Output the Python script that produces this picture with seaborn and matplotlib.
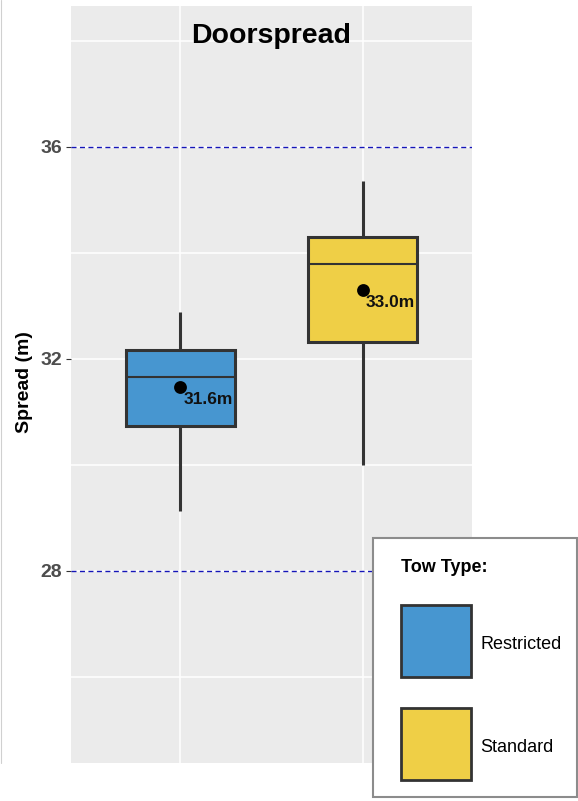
import numpy as np
import pandas as pd
import seaborn as sns
import matplotlib.pyplot as plt
from matplotlib.patches import Rectangle
from matplotlib.lines import Line2D


# ==========================================
# 1. DATA
# ==========================================

tow_types = ["Restricted", "Standard"]
box_colors = ["#4796D0", "#EFCF46"]

# five-number summaries per tow type (m)
whisker_low = [29.13, 29.99]
q1_values = [30.74, 32.32]
median_values = [31.65, 33.79]
q3_values = [32.16, 34.29]
whisker_high = [32.89, 35.36]

# mean markers and their labels
mean_values = [31.46, 33.29]
mean_labels = ["31.6m", "33.0m"]

# reference lines and axis ticks
ref_lines = [28, 36]
y_ticks = [28, 32, 36]
y_minor = [26, 30, 34, 38]

# Five points per group reproduce the summary exactly with whis=(0, 100)
rows = []
for i, t in enumerate(tow_types):
    for v in (whisker_low[i], q1_values[i], median_values[i], q3_values[i], whisker_high[i]):
        rows.append({"tow_type": t, "spread": v})
df = pd.DataFrame(rows)
means_df = pd.DataFrame({"tow_type": tow_types, "mean": mean_values})


# ==========================================
# 2. STYLE
# ==========================================

sns.set_theme(style="darkgrid", rc={
    "axes.facecolor": "#EBEBEB",
    "grid.color": "white",
    "grid.linewidth": 1.1,
    "axes.edgecolor": "#EBEBEB",
})
plt.rcParams["font.family"] = ["Liberation Sans", "DejaVu Sans"]

W, H = 578, 801
fig = plt.figure(figsize=(W / 100, H / 100), dpi=100)


def fx(px):
    return px / W


def fy(px):
    return 1 - px / H


ax = fig.add_axes([fx(71), fy(763), fx(472) - fx(71), fy(6) - fy(763)])


# ==========================================
# 3. BOXES, MEANS, LABELS
# ==========================================

sns.boxplot(
    data=df, x="tow_type", y="spread", hue="tow_type",
    order=tow_types, hue_order=tow_types, palette=box_colors,
    whis=(0, 100), width=0.6, saturation=1, linewidth=2.2,
    linecolor="#333333", showcaps=False, legend=False,
    medianprops=dict(linewidth=1.5, color="#333333"),
    ax=ax,
)

sns.pointplot(
    data=means_df, x="tow_type", y="mean", order=tow_types,
    color="black", linestyle="none", marker="o", markersize=7.2,
    errorbar=None, ax=ax,
)

for i, (m, lab) in enumerate(zip(mean_values, mean_labels)):
    ax.annotate(lab, (i, m), xytext=(2.0, -3.5), textcoords="offset points",
                ha="left", va="top", fontsize=12.5, fontweight="bold",
                color="#111111", zorder=6)

for r in ref_lines:
    ax.axhline(r, color="#1515B8", linewidth=1.0, linestyle=(0, (3.6, 2.5)), zorder=1.5)

ax.set_xlim(-0.6, 1.6)
ax.set_ylim(24.37, 38.66)
ax.set_yticks(y_ticks)
ax.set_yticks(y_minor, minor=True)
ax.grid(True, which="both", axis="y", color="white", linewidth=1.1)
ax.grid(True, which="major", axis="x", color="white", linewidth=1.1)
ax.set_xticks([0, 1])
ax.set_xticklabels([])
ax.tick_params(axis="x", length=0)
ax.tick_params(axis="y", which="major", length=3.6, width=0.8, color="#333333",
               pad=3, labelsize=14, labelcolor="#4D4D4D", left=True)
ax.tick_params(axis="y", which="minor", length=0)
for lbl in ax.get_yticklabels():
    lbl.set_fontweight("bold")
ax.set_xlabel("")
ax.set_ylabel("Spread (m)", fontsize=14, fontweight="bold", color="black")
ax.yaxis.set_label_coords(-0.115, 0.503)
ax.yaxis.label.set_va("center")
for s in ax.spines.values():
    s.set_visible(False)

ax.text(0.5, 0.951, "Doorspread", transform=ax.transAxes, ha="center",
        va="baseline", fontsize=20.5, fontweight="bold", color="black")


# ==========================================
# 4. LEGEND (boxed, lower right, over the panel)
# ==========================================

fig.add_artist(Rectangle((fx(373), fy(797)), fx(577) - fx(373), fy(538) - fy(797),
                         transform=fig.transFigure, facecolor="white",
                         edgecolor="#8C8C8C", linewidth=1.5, zorder=5))
fig.text(fx(401), fy(572), "Tow Type:", ha="left", va="baseline",
         fontsize=13, fontweight="bold", color="black", zorder=6)

sq_tops = [605, 708]
for top, col, name in zip(sq_tops, box_colors, tow_types):
    fig.add_artist(Rectangle((fx(401), fy(top + 72)), fx(70), 72 / H,
                             transform=fig.transFigure, facecolor=col,
                             edgecolor="#333333", linewidth=2.0, zorder=6))
    fig.text(fx(480), fy(top + 44), name, ha="left", va="baseline",
             fontsize=13, color="black", zorder=6)

# faint frame line along the left edge
fig.add_artist(Line2D([fx(0.5), fx(0.5)], [fy(0), fy(763)], transform=fig.transFigure,
                      color="#D0D0D0", linewidth=0.8))

fig.savefig("out.png", dpi=100)
plt.close(fig)
